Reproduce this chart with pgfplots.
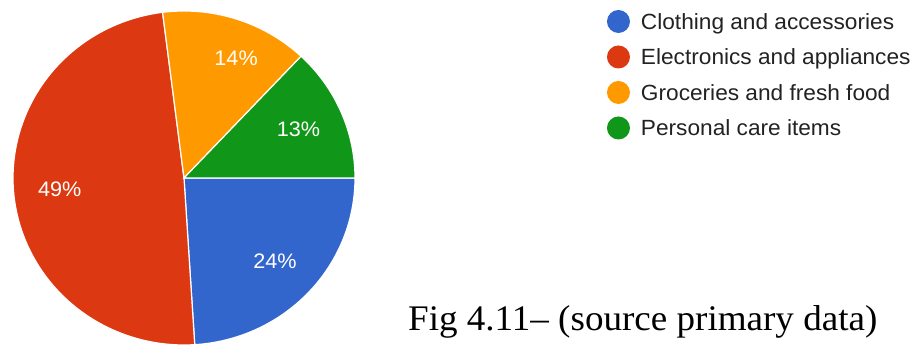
\documentclass[border=0pt]{standalone}
\usepackage{pgfplots}
\pgfplotsset{compat=1.18}
\usepackage{pgfplotstable}
\usepackage{fontspec}
\setmainfont{Liberation Sans}[FakeStretch=1.03]
\newfontfamily\capfont{Liberation Serif}[FakeStretch=1.03]
\definecolor{c0}{HTML}{3366CC}
\definecolor{c1}{HTML}{DC3912}
\definecolor{c2}{HTML}{FF9900}
\definecolor{c3}{HTML}{109618}
\definecolor{legtext}{HTML}{222222}

% value = share in percent; lrad/lrot = placement of the percent label
\pgfplotstableread[col sep=comma]{
label,value,lrad,lrot
Clothing and accessories,24,0.73,0
Electronics and appliances,49,0.73,0
Groceries and fresh food,14,0.78,-5
Personal care items,13,0.73,0
}\piedata

\begin{document}
\def\cum{0}%
\pgfplotsforeachungrouped \i in {0,...,3}{%
  \pgfplotstablegetelem{\i}{value}\of\piedata
  \let\curv\pgfplotsretval
  \expandafter\xdef\csname val\i\endcsname{\curv}%
  \pgfplotstablegetelem{\i}{label}\of\piedata
  \expandafter\xdef\csname lab\i\endcsname{\pgfplotsretval}%
  \pgfplotstablegetelem{\i}{lrad}\of\piedata
  \expandafter\xdef\csname lr\i\endcsname{\pgfplotsretval}%
  \pgfplotstablegetelem{\i}{lrot}\of\piedata
  \let\currot\pgfplotsretval
  \pgfmathsetmacro\s{-3.6*\cum}%
  \pgfmathsetmacro\cum{\cum+\curv}%
  \pgfmathsetmacro\e{-3.6*\cum}%
  \pgfmathsetmacro\m{(\s+\e)/2+\currot}%
  \expandafter\xdef\csname st\i\endcsname{\s}%
  \expandafter\xdef\csname en\i\endcsname{\e}%
  \expandafter\xdef\csname mid\i\endcsname{\m}%
}%
\begin{tikzpicture}
\useasboundingbox (0,0) rectangle (915bp,345bp);
\begin{axis}[
  at={(13bp,0bp)}, anchor=south west,
  scale only axis, width=342bp, height=334bp,
  xmin=-1, xmax=1, ymin=-1, ymax=1,
  hide axis, clip=false,
  legend cell align=left,
  legend image code/.code={\fill[#1, draw=none] (11.5bp,0bp) circle (11.5bp);},
  legend style={at={(axis description cs:1.7368,1.003)}, anchor=north west,
    draw=none, fill=none, inner sep=0pt, outer sep=0pt,
    font=\fontsize{22bp}{26bp}\selectfont, text=legtext,
    row sep=12.5bp,
    nodes={inner sep=0pt, text height=16bp, text depth=0bp},
    /tikz/every odd column/.append style={column sep=11bp}},
]
\pgfplotsinvokeforeach{0,...,3}{%
  \addplot[fill=c#1, draw=white, line width=1.2bp, samples=90,
    domain=\csname en#1\endcsname:\csname st#1\endcsname, variable=\t]
    ({cos(\t)},{sin(\t)}) -- (axis cs:0,0) -- cycle;
  \addlegendentry{\csname lab#1\endcsname}
}
\pgfplotsinvokeforeach{0,...,3}{%
  \node[text=white, font=\fontsize{21bp}{25bp}\selectfont]
    at (axis cs:{\csname lr#1\endcsname*cos(\csname mid#1\endcsname)},{\csname lr#1\endcsname*sin(\csname mid#1\endcsname)})
    {\csname val#1\endcsname\%};
}
\end{axis}
\node[anchor=base west, inner sep=0pt, font=\capfont\fontsize{36bp}{40bp}\selectfont]
  at (408bp,15bp) {Fig 4.11– (source primary data)};
\end{tikzpicture}
\end{document}
